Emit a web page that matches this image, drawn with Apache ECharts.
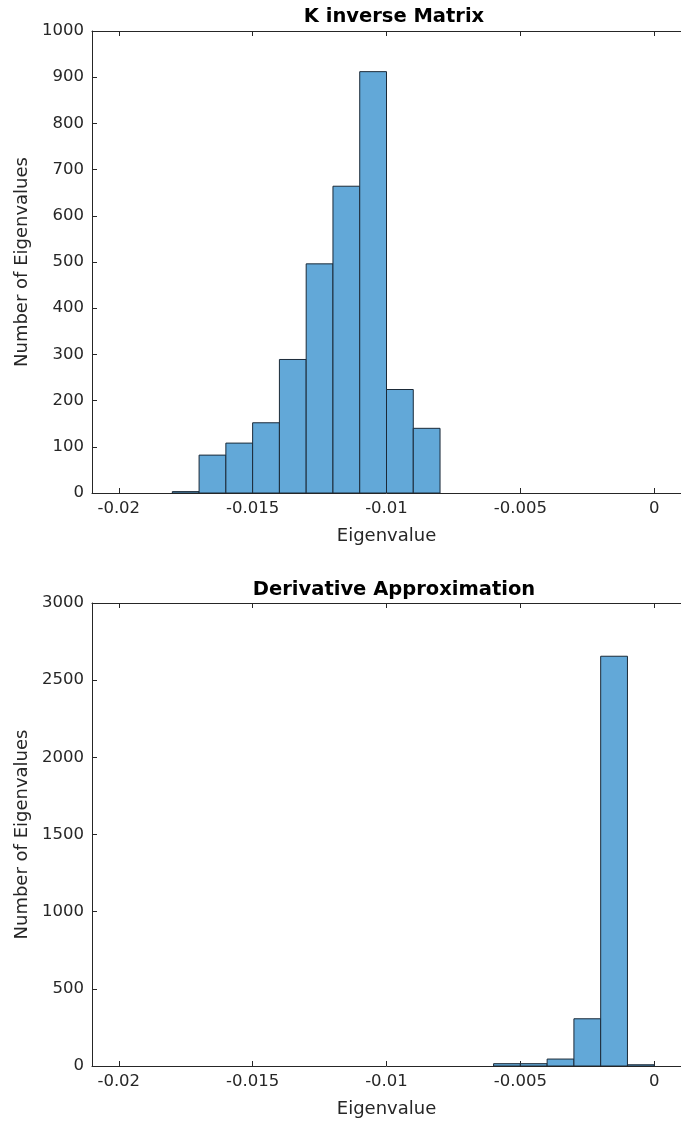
<!DOCTYPE html>
<html>
<head>
<meta charset="utf-8">
<script src="https://cdn.jsdelivr.net/npm/echarts@6/dist/echarts.min.js"></script>
<style>
  html, body { margin: 0; padding: 0; background: #ffffff; }
  #chart { width: 681px; height: 1127px; }
</style>
</head>
<body>
<div id="chart"></div>
<script>
// ---- Data ----
const titles = ['K inverse Matrix', 'Derivative Approximation'];
const xLabel = 'Eigenvalue';
const yLabel = 'Number of Eigenvalues';
const xTicks = [-0.02, -0.015, -0.01, -0.005, 0];

// top histogram: bin edges and counts
const binEdgesTop = [-0.018, -0.017, -0.016, -0.015, -0.014, -0.013, -0.012, -0.011, -0.010, -0.009, -0.008];
const countsTop   = [3, 82, 108, 152, 289, 496, 664, 912, 224, 140];

// bottom histogram
const binEdgesBottom = [-0.006, -0.005, -0.004, -0.003, -0.002, -0.001, 0];
const countsBottom   = [15, 15, 45, 306, 2655, 8];

const yMaxTop = 1000, yStepTop = 100;
const yMaxBottom = 3000, yStepBottom = 500;

function toBins(edges, counts) {
  return counts.map((c, i) => [edges[i], edges[i + 1], c]);
}

const fontFamily = 'DejaVu Sans';
const axisColor = '#262626';
const tickFont = 16.5;
const labelFont = 18;
const titleFont = 19.5;

const grids = [
  { left: 92, top: 31, width: 594, height: 462 },
  { left: 92, top: 603, width: 594, height: 463 }
];

function xAxisPair(gridIndex) {
  const base = {
    gridIndex: gridIndex,
    type: 'value',
    min: -0.021,
    max: 0.001,
    axisLine: { show: true, onZero: false, lineStyle: { color: axisColor, width: 1 } },
    axisTick: { show: true, inside: true, length: 5, customValues: xTicks, lineStyle: { color: axisColor } },
    splitLine: { show: false }
  };
  return [
    Object.assign({}, base, {
      position: 'bottom',
      name: xLabel,
      nameLocation: 'middle',
      nameGap: 34,
      nameTextStyle: { fontFamily: fontFamily, fontSize: labelFont, color: axisColor },
      axisLabel: { show: true, customValues: xTicks, margin: 7, fontFamily: fontFamily, fontSize: tickFont, color: axisColor,
        formatter: v => (Math.abs(v) < 1e-12 ? '0' : String(+v.toFixed(3))) }
    }),
    Object.assign({}, base, {
      position: 'top',
      axisLabel: { show: false }
    })
  ];
}

function yAxis(gridIndex, max, step) {
  return {
    gridIndex: gridIndex,
    type: 'value',
    position: 'left',
    min: 0,
    max: max,
    interval: step,
    name: yLabel,
    nameLocation: 'middle',
    nameGap: 60,
    nameTextStyle: { fontFamily: fontFamily, fontSize: labelFont, color: axisColor },
    axisLine: { show: true, onZero: false, lineStyle: { color: axisColor, width: 1 } },
    axisTick: { show: true, inside: true, length: 5, lineStyle: { color: axisColor } },
    axisLabel: { margin: 8, fontFamily: fontFamily, fontSize: tickFont, color: axisColor,
      formatter: v => String(v) },
    splitLine: { show: false }
  };
}

function histSeries(xAxisIndex, yAxisIndex, data) {
  return {
    type: 'custom',
    xAxisIndex: xAxisIndex,
    yAxisIndex: yAxisIndex,
    clip: true,
    data: data,
    encode: { x: [0, 1], y: 2 },
    renderItem: function (params, api) {
      const p0 = api.coord([api.value(0), api.value(2)]);
      const p1 = api.coord([api.value(1), 0]);
      return {
        type: 'rect',
        shape: { x: p0[0], y: p0[1], width: p1[0] - p0[0], height: p1[1] - p0[1] },
        style: { fill: '#62a8d8', stroke: '#1b2a38', lineWidth: 1 }
      };
    }
  };
}

const xTop = xAxisPair(0);
const xBottom = xAxisPair(1);

const option = {
  backgroundColor: '#ffffff',
  animation: false,
  title: [
    { text: titles[0], left: 389, top: 2, textAlign: 'center',
      textStyle: { fontFamily: fontFamily, fontSize: titleFont, fontWeight: 'bold', color: '#000' } },
    { text: titles[1], left: 389, top: 575, textAlign: 'center',
      textStyle: { fontFamily: fontFamily, fontSize: titleFont, fontWeight: 'bold', color: '#000' } }
  ],
  grid: grids,
  xAxis: [xTop[0], xTop[1], xBottom[0], xBottom[1]],
  yAxis: [yAxis(0, yMaxTop, yStepTop), yAxis(1, yMaxBottom, yStepBottom)],
  series: [
    histSeries(0, 0, toBins(binEdgesTop, countsTop)),
    histSeries(2, 1, toBins(binEdgesBottom, countsBottom))
  ]
};

const chart = echarts.init(document.getElementById('chart'), null, { renderer: 'canvas' });
chart.setOption(option);
</script>
</body>
</html>
